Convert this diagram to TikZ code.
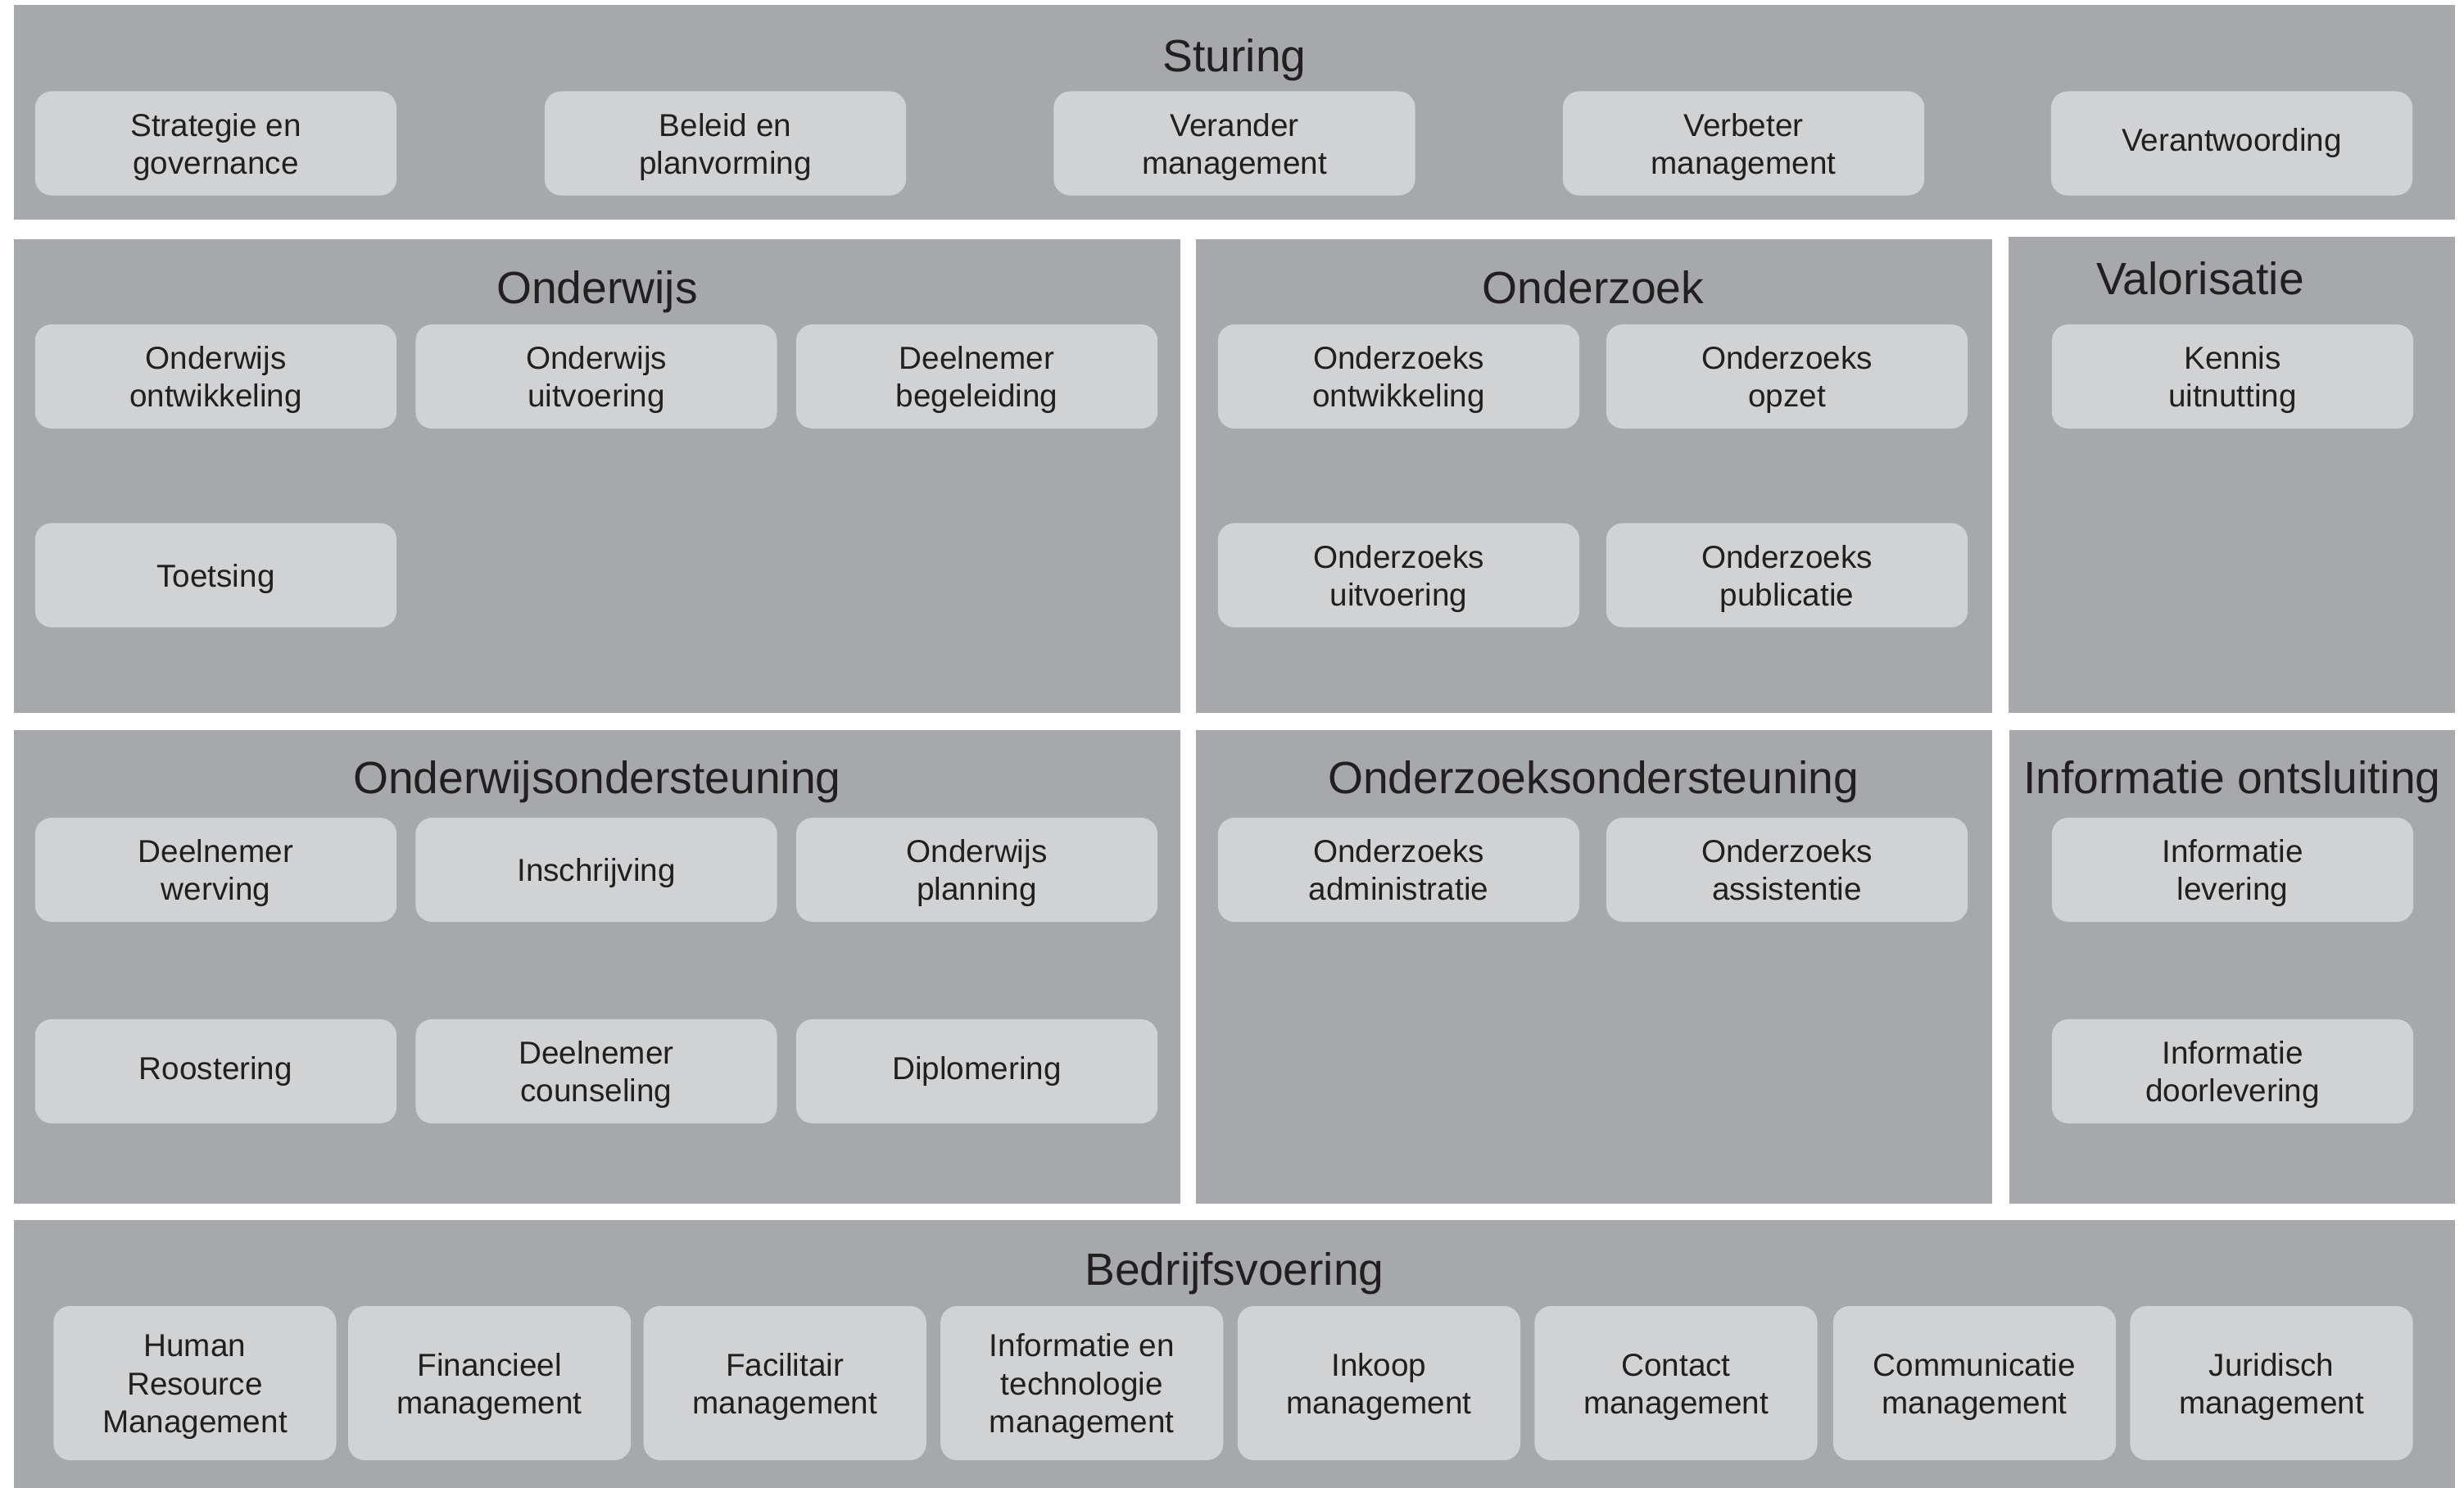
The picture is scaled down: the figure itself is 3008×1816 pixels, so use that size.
\documentclass[tikz,border=0pt]{standalone}
\usepackage{fontspec}
\setmainfont{Liberation Sans}
\usetikzlibrary{fit}
\definecolor{panelgray}{HTML}{A7A8AB}
\definecolor{boxgray}{HTML}{D1D2D4}
\definecolor{ink}{HTML}{231F20}
\newcommand{\boxfont}{\fontsize{11}{13.2}\selectfont}
\newcommand{\headfont}{\fontsize{15.7}{18}\selectfont}
\newcommand{\st}{\rule{0pt}{10.4pt}}
\newcommand{\sd}{\rule[-2.3pt]{0pt}{2.3pt}}
\tikzset{
  panel/.style={fill=panelgray, draw=none, inner sep=0pt, outer sep=0pt, rectangle},
  fbox/.style={fill=boxgray, draw=none, rounded corners=0.2cm, minimum width=4.41cm, minimum height=1.27cm,
    align=center, font=\boxfont, text=ink, inner sep=0pt},
  bbox/.style={fbox, minimum width=3.45cm, minimum height=1.88cm},
  head/.style={font=\headfont, text=ink, anchor=base, inner sep=0pt}
}
\begin{document}
\begin{tikzpicture}[x=0.01cm,y=-0.01cm]
\useasboundingbox[fill=white] (0,0) rectangle (3008,1816);
% panels
\node[panel, fit={(17,6) (2997,268)}] (pSturing) {};
\node[panel, fit={(17,292) (1441,870)}] (pOnderwijs) {};
\node[panel, fit={(1460,292) (2432,870)}] (pOnderzoek) {};
\node[panel, fit={(2452,289) (2997,870)}] (pValorisatie) {};
\node[panel, fit={(17,891) (1441,1469)}] (pOwo) {};
\node[panel, fit={(1460,891) (2432,1469)}] (pOzo) {};
\node[panel, fit={(2453,891) (2997,1469)}] (pInfo) {};
\node[panel, fit={(17,1489) (2997,1816)}] (pBedrijf) {};
% titles
\node[head] (tSturing) at (1507,88) {Sturing};
\node[head] (tOnderwijs) at (729,371) {Onderwijs};
\node[head] (tOnderzoek) at (1945,371) {Onderzoek};
\node[head] (tValorisatie) at (2686,360) {Valorisatie};
\node[head] (tOwo) at (729,969) {Onderwijsondersteuning};
\node[head] (tOzo) at (1945,969) {Onderzoeksondersteuning};
\node[head] (tInfo) at (2725,969) {Informatie ontsluiting};
\node[head] (tBedrijf) at (1507,1568) {Bedrijfsvoering};
% Sturing boxes
\node[fbox] (s1) at (263.5,175) {\st Strategie en\\governance};
\node[fbox] (s2) at (885.5,175) {\st Beleid en\\planvorming};
\node[fbox] (s3) at (1507,175) {\st Verander\\management};
\node[fbox] (s4) at (2128.5,175) {\st Verbeter\\management};
\node[fbox] (s5) at (2724.5,175) {Verantwoording};
% Onderwijs
\node[fbox] (ow1) at (263.5,459.5) {\st Onderwijs\\ontwikkeling};
\node[fbox] (ow2) at (728,459.5) {\st Onderwijs\\uitvoering};
\node[fbox] (ow3) at (1192.5,459.5) {\st Deelnemer\\begeleiding};
\node[fbox] (ow4) at (263.5,702) {\st Toetsing};
% Onderzoek
\node[fbox] (oz1) at (1707.5,459.5) {\st Onderzoeks\\ontwikkeling};
\node[fbox] (oz2) at (2181.5,459.5) {\st Onderzoeks\\opzet};
\node[fbox] (oz3) at (1707.5,702) {\st Onderzoeks\\uitvoering};
\node[fbox] (oz4) at (2181.5,702) {\st Onderzoeks\\publicatie};
% Valorisatie
\node[fbox] (v1) at (2725.5,459.5) {\st Kennis\\uitnutting};
% Onderwijsondersteuning
\node[fbox] (os1) at (263.5,1061.5) {\st Deelnemer\\werving};
\node[fbox] (os2) at (728,1061.5) {\st Inschrijving};
\node[fbox] (os3) at (1192.5,1061.5) {\st Onderwijs\\planning};
\node[fbox] (os4) at (263.5,1307.5) {Roostering};
\node[fbox] (os5) at (728,1307.5) {\st Deelnemer\\counseling};
\node[fbox] (os6) at (1192.5,1307.5) {Diplomering};
% Onderzoeksondersteuning
\node[fbox] (zs1) at (1707.5,1061.5) {\st Onderzoeks\\administratie\sd};
\node[fbox] (zs2) at (2181.5,1061.5) {\st Onderzoeks\\assistentie\sd};
% Informatie ontsluiting
\node[fbox] (io1) at (2725.5,1061.5) {\st Informatie\\levering};
\node[fbox] (io2) at (2725.5,1307.5) {\st Informatie\\doorlevering};
% Bedrijfsvoering
\node[bbox] (b1) at (237.9,1688) {\st Human\\Resource\\Management};
\node[bbox] (b2) at (597.6,1688) {\st Financieel\\management};
\node[bbox] (b3) at (958.2,1688) {\st Facilitair\\management};
\node[bbox] (b4) at (1320.8,1688) {\st Informatie en\\technologie\\management};
\node[bbox] (b5) at (1683.4,1688) {\st Inkoop\\management};
\node[bbox] (b6) at (2046,1688) {\st Contact\\management};
\node[bbox] (b7) at (2410.5,1688) {\st Communicatie\\management};
\node[bbox] (b8) at (2773,1688) {\st Juridisch\\management};
\end{tikzpicture}
\end{document}
